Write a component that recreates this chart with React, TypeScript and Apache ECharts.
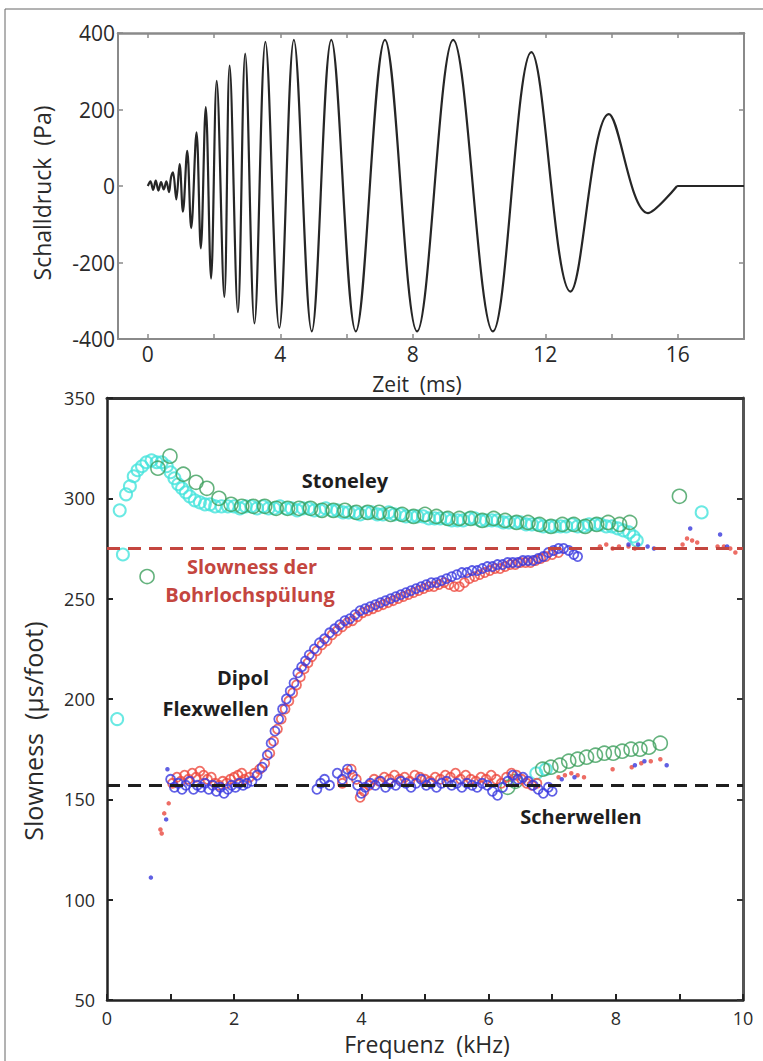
import React, { useEffect, useRef } from "react";
import * as echarts from "echarts";

// ---------- Top panel: pressure waveform (extrema) ----------
const WAVE_TIME = [
  0, 0.08, 0.16, 0.24, 0.32, 0.4, 0.48, 0.56, 0.64, 0.7, 0.76, 0.86, 0.96, 1.06, 1.19, 1.31, 1.47, 1.6,
  1.75, 1.91, 2.08, 2.31, 2.47, 2.72, 2.94, 3.22, 3.55, 3.97, 4.41, 4.95, 5.54, 6.28, 7.16, 8.13, 9.22,
  10.42, 11.58, 12.76, 13.92, 15.1, 15.98,
];
const WAVE_PRESSURE = [
  0, 12, -10, 14, -12, 10, -9, 12, -16, 22, 36, -35, 57, -67, 92, -110, 140, -163, 206, -242, 275,
  -290, 315, -330, 346, -359, 377, -371, 382, -380, 382, -380, 382, -380, 382, -380, 350, -276, 188,
  -71, 0,
];
const TAIL_TIME = [15.98, 18];
const TAIL_PRESSURE = [0, 0];

const TIME_TICKS = [0, 2, 4, 6, 8, 10, 12, 14, 16, 18];
const TIME_LABELS = [0, 4, 8, 12, 16];
const PRESSURE_TICKS = [-400, -200, 0, 200, 400];

// ---------- Bottom panel: slowness dispersion ----------
const FREQ_TICKS = [0, 1, 2, 3, 4, 5, 6, 7, 8, 9, 10];
const FREQ_LABELS = [0, 2, 4, 6, 8, 10];
const MUD_SLOWNESS = 275;
const SHEAR_SLOWNESS = 157;

const STONELEY_CYAN: number[][] = [
  [0.16, 190], [0.2, 294], [0.25, 272], [0.3, 302], [0.36, 306], [0.42, 311], [0.48, 314], [0.55, 316],
  [0.62, 318], [0.7, 319], [0.78, 318], [0.86, 318], [0.94, 316], [1.0, 313], [1.06, 310], [1.12, 307],
  [1.18, 305], [1.24, 303], [1.3, 301], [1.38, 299], [1.46, 298], [1.54, 297], [1.62, 297], [1.7, 296],
  [1.8, 296], [1.9, 296], [2.0, 296], [2.09, 295], [2.18, 296], [2.27, 296], [2.36, 295], [2.45, 296],
  [2.54, 295], [2.63, 295], [2.72, 296], [2.81, 295], [2.9, 295], [2.99, 294], [3.08, 295], [3.17, 295],
  [3.26, 294], [3.35, 294], [3.44, 295], [3.53, 294], [3.62, 294], [3.71, 293], [3.8, 293], [3.89, 293],
  [3.98, 292], [4.07, 293], [4.16, 293], [4.25, 292], [4.34, 292], [4.43, 293], [4.52, 292], [4.61, 292],
  [4.7, 291], [4.79, 291], [4.88, 291], [4.97, 291], [5.06, 290], [5.15, 290], [5.24, 290], [5.33, 290],
  [5.42, 289], [5.51, 289], [5.6, 289], [5.69, 290], [5.78, 290], [5.87, 289], [5.96, 289], [6.05, 289],
  [6.14, 289], [6.23, 288], [6.32, 288], [6.41, 288], [6.5, 288], [6.59, 287], [6.68, 287], [6.77, 287],
  [6.86, 286], [6.95, 286], [7.04, 286], [7.13, 286], [7.22, 286], [7.31, 287], [7.4, 286], [7.49, 286],
  [7.58, 287], [7.67, 287], [7.76, 287], [7.85, 286], [7.94, 286], [8.03, 285], [8.12, 284], [8.21, 283],
  [8.28, 281], [8.33, 279], [9.35, 293], [6.75, 163], [6.9, 165],
];

const STONELEY_GREEN: number[][] = [
  [0.63, 261], [0.8, 315], [0.99, 321], [1.2, 312], [1.4, 308], [1.57, 305], [1.76, 300], [1.95, 297],
  [2.12, 296], [2.3, 296], [2.48, 296], [2.66, 295], [2.84, 295], [3.02, 295], [3.2, 295], [3.38, 294],
  [3.56, 294], [3.74, 294], [3.92, 293], [4.1, 293], [4.28, 293], [4.46, 292], [4.64, 292], [4.82, 291],
  [5.0, 292], [5.18, 291], [5.36, 290], [5.54, 290], [5.72, 290], [5.9, 289], [6.08, 290], [6.26, 289],
  [6.44, 288], [6.62, 288], [6.8, 287], [6.98, 286], [7.16, 287], [7.34, 287], [7.52, 286], [7.7, 287],
  [7.88, 288], [8.06, 287], [8.22, 288], [9.0, 301],
];

const SHEAR_GREEN: number[][] = [
  [6.3, 156], [6.42, 159], [6.85, 165], [6.98, 166], [7.12, 167], [7.26, 169], [7.4, 170], [7.54, 171],
  [7.68, 172], [7.82, 173], [7.96, 173], [8.1, 174], [8.24, 175], [8.38, 175], [8.52, 176], [8.7, 178],
];

const DIPOLE_RED: number[][] = [
  [1.03, 158], [1.1, 161], [1.16, 159], [1.22, 162], [1.28, 160], [1.34, 163], [1.4, 161], [1.46, 164],
  [1.52, 162], [1.58, 160], [1.64, 161], [1.7, 158], [1.76, 157], [1.82, 159], [1.88, 158], [1.94, 160],
  [2.0, 161], [2.06, 162], [2.12, 163],
  [2.16, 160], [2.24, 161], [2.32, 163], [2.4, 165], [2.48, 168], [2.56, 173], [2.62, 179], [2.68, 185],
  [2.74, 190], [2.8, 195], [2.86, 199], [2.92, 203], [2.98, 207], [3.04, 211], [3.1, 215], [3.16, 218],
  [3.22, 221], [3.3, 224], [3.38, 227], [3.46, 229], [3.54, 232], [3.62, 234], [3.7, 236], [3.78, 238],
  [3.86, 239], [3.94, 241], [4.02, 243], [4.1, 244], [4.18, 245], [4.26, 246], [4.34, 247], [4.42, 248],
  [4.5, 249], [4.58, 250], [4.66, 251], [4.74, 252], [4.82, 253], [4.9, 254], [4.98, 255], [5.06, 256],
  [5.14, 256], [5.22, 257], [5.3, 258], [5.38, 257], [5.46, 256], [5.54, 256], [5.62, 258], [5.7, 260],
  [5.78, 261], [5.86, 262], [5.94, 263], [6.02, 264], [6.1, 265], [6.18, 265], [6.26, 266], [6.34, 267],
  [6.42, 267], [6.5, 268], [6.58, 268], [6.66, 268], [6.74, 269], [6.82, 270], [6.9, 271], [7.0, 272],
  [7.1, 273],
];

const DIPOLE_BLUE: number[][] = [
  [1.0, 160], [1.06, 156], [1.12, 158], [1.18, 155], [1.24, 157], [1.3, 159], [1.36, 155], [1.42, 157],
  [1.48, 156], [1.54, 158], [1.6, 155], [1.66, 157], [1.72, 154], [1.78, 156], [1.84, 153], [1.9, 155],
  [1.96, 157], [2.02, 156], [2.08, 158], [2.14, 157],
  [2.2, 158], [2.28, 159], [2.36, 162], [2.44, 166], [2.52, 172], [2.58, 178], [2.64, 184], [2.7, 190],
  [2.76, 195], [2.82, 200], [2.88, 204], [2.94, 208], [3.0, 213], [3.06, 216], [3.12, 219], [3.18, 222],
  [3.26, 225], [3.34, 228], [3.42, 230], [3.5, 233], [3.58, 235], [3.66, 237], [3.74, 239], [3.82, 240],
  [3.9, 242], [3.98, 244], [4.06, 245], [4.14, 246], [4.22, 247], [4.3, 248], [4.38, 249], [4.46, 250],
  [4.54, 251], [4.62, 252], [4.7, 253], [4.78, 254], [4.86, 255], [4.94, 256], [5.02, 257], [5.1, 258],
  [5.18, 258], [5.26, 259], [5.34, 260], [5.42, 261], [5.5, 262], [5.58, 263], [5.66, 263], [5.74, 264],
  [5.82, 264], [5.9, 265], [5.98, 266], [6.06, 266], [6.14, 267], [6.22, 267], [6.3, 268], [6.38, 268],
  [6.46, 268], [6.54, 269], [6.62, 269], [6.7, 269], [6.78, 270], [6.86, 271], [6.94, 273], [7.02, 274],
  [7.1, 275], [7.18, 275], [7.26, 274], [7.34, 272], [7.4, 271],
];

const SHEAR_RED: number[][] = [
  [3.7, 158], [3.76, 163], [3.84, 165], [3.92, 160], [3.98, 151], [4.04, 154], [4.12, 157], [4.2, 160],
  [4.28, 159], [4.36, 161], [4.44, 160], [4.52, 162], [4.6, 160], [4.68, 161], [4.76, 159], [4.84, 162],
  [4.92, 161], [5.0, 160], [5.08, 159], [5.16, 161], [5.24, 160], [5.32, 162], [5.4, 161], [5.48, 163],
  [5.56, 160], [5.64, 162], [5.72, 160], [5.8, 159], [5.88, 161], [5.96, 160], [6.04, 162], [6.12, 160],
  [6.2, 158], [6.28, 161], [6.36, 163], [6.44, 162], [6.52, 160], [6.6, 158], [6.68, 157], [6.76, 158],
];

const SHEAR_BLUE: number[][] = [
  [3.3, 155], [3.36, 158], [3.42, 160], [3.5, 157], [3.62, 163], [3.7, 160], [3.78, 165], [3.86, 162],
  [3.94, 157], [4.0, 153], [4.06, 156], [4.14, 158], [4.22, 157], [4.3, 159], [4.38, 156], [4.46, 158],
  [4.54, 157], [4.62, 159], [4.7, 158], [4.78, 156], [4.86, 158], [4.94, 160], [5.02, 157], [5.1, 158],
  [5.18, 156], [5.26, 158], [5.34, 159], [5.42, 157], [5.5, 158], [5.58, 156], [5.66, 158], [5.74, 157],
  [5.82, 156], [5.9, 158], [5.98, 157], [6.06, 154], [6.14, 152], [6.22, 156], [6.3, 159], [6.38, 162],
  [6.46, 160], [6.54, 161], [6.62, 159], [6.7, 157], [6.78, 155], [6.86, 153], [6.94, 156], [7.0, 154],
];

const DOTS_RED: number[][] = [
  [0.84, 135], [0.86, 133], [0.9, 143], [0.97, 148], [7.1, 161], [7.2, 162], [7.3, 163], [7.4, 162],
  [7.5, 161], [7.95, 165], [8.25, 166], [8.4, 168], [8.55, 169], [8.7, 170], [7.75, 276], [7.85, 277],
  [7.95, 275], [8.05, 276], [8.2, 276], [8.3, 275], [9.05, 277], [9.12, 280], [9.2, 279], [9.28, 278],
  [9.6, 276], [9.7, 276], [9.8, 275], [9.88, 273],
];

const DOTS_BLUE: number[][] = [
  [0.69, 111], [0.93, 140], [0.95, 165], [7.15, 160], [7.35, 161], [8.3, 167], [8.45, 169], [8.8, 167],
  [8.2, 277], [8.35, 277], [8.5, 276], [8.6, 275], [9.17, 285], [9.64, 282], [9.75, 276],
];

const FONT = "'Open Sans', 'Noto Sans', sans-serif";

export default function App() {
  const ref = useRef<HTMLDivElement>(null);

  useEffect(() => {
    if (!ref.current) return;
    const chart = echarts.init(ref.current, undefined, { renderer: "svg" });

    const topAxisColor = "#8a8a8a";
    const botAxisColor = "#222";

    const openCircle = (color: string, size: number, width: number) => ({
      type: "scatter",
      xAxisIndex: 2,
      yAxisIndex: 2,
      symbol: "circle",
      symbolSize: size,
      itemStyle: { color: "rgba(0,0,0,0)", borderColor: color, borderWidth: width },
      silent: true,
    });

    const option: any = {
      animation: false,
      backgroundColor: "#ffffff",
      grid: [
        { left: 118, top: 33, width: 626, height: 306 },
        { left: 107, top: 398, width: 636, height: 602 },
      ],
      xAxis: [
        {
          gridIndex: 0, type: "value", min: -0.9, max: 18,
          axisLine: { onZero: false, lineStyle: { color: topAxisColor, width: 2 } },
          axisTick: { inside: true, length: 5, customValues: TIME_TICKS, lineStyle: { color: topAxisColor, width: 1.5 } },
          axisLabel: { customValues: TIME_LABELS, fontSize: 21, lineHeight: 22, color: "#2a2a2a", fontFamily: FONT, margin: 4 },
          splitLine: { show: false },
        },
        {
          gridIndex: 0, type: "value", position: "top", min: -0.9, max: 18,
          axisLine: { onZero: false, lineStyle: { color: topAxisColor, width: 2.5 } },
          axisTick: { inside: true, length: 5, customValues: TIME_TICKS, lineStyle: { color: topAxisColor, width: 1.5 } },
          axisLabel: { show: false },
          splitLine: { show: false },
        },
        {
          gridIndex: 1, type: "value", min: 0, max: 10,
          axisLine: { onZero: false, lineStyle: { color: botAxisColor, width: 2.5 } },
          axisTick: { inside: true, length: 6, customValues: FREQ_TICKS, lineStyle: { color: botAxisColor, width: 2 } },
          axisLabel: { customValues: FREQ_LABELS, fontSize: 18, lineHeight: 20, color: "#2a2a2a", fontFamily: FONT, margin: 8 },
          splitLine: { show: false },
        },
        {
          gridIndex: 1, type: "value", position: "top", min: 0, max: 10,
          axisLine: { onZero: false, lineStyle: { color: "#333", width: 3 } },
          axisTick: { show: false },
          axisLabel: { show: false },
          splitLine: { show: false },
        },
      ],
      yAxis: [
        {
          gridIndex: 0, type: "value", min: -400, max: 400, interval: 200,
          axisLine: { show: true, onZero: false, lineStyle: { color: topAxisColor, width: 2 } },
          axisTick: { show: true, inside: true, length: 5, lineStyle: { color: topAxisColor, width: 1.5 } },
          axisLabel: { fontSize: 21, color: "#2a2a2a", fontFamily: FONT, margin: 3 },
          splitLine: { show: false },
        },
        {
          gridIndex: 0, type: "value", position: "right", min: -400, max: 400, interval: 200,
          axisLine: { show: true, onZero: false, lineStyle: { color: topAxisColor, width: 2 } },
          axisTick: { show: true, inside: true, length: 5, customValues: PRESSURE_TICKS, lineStyle: { color: topAxisColor, width: 1.5 } },
          axisLabel: { show: false },
          splitLine: { show: false },
        },
        {
          gridIndex: 1, type: "value", min: 50, max: 350, interval: 50,
          axisLine: { show: true, onZero: false, lineStyle: { color: botAxisColor, width: 2.5 } },
          axisTick: { show: true, inside: true, length: 6, lineStyle: { color: botAxisColor, width: 2 } },
          axisLabel: { fontSize: 18, color: "#2a2a2a", fontFamily: FONT, margin: 12 },
          splitLine: { show: false },
        },
        {
          gridIndex: 1, type: "value", position: "right", min: 50, max: 350, interval: 50,
          axisLine: { show: true, onZero: false, lineStyle: { color: "#555", width: 3 } },
          axisTick: { show: true, inside: true, length: 6, lineStyle: { color: "#333", width: 2 } },
          axisLabel: { show: false },
          splitLine: { show: false },
        },
      ],
      series: [
        {
          type: "line", xAxisIndex: 0, yAxisIndex: 0,
          data: WAVE_TIME.map((t, i) => [t, WAVE_PRESSURE[i]]),
          smooth: 0.36, showSymbol: false, symbol: "none",
          lineStyle: { color: "#262626", width: 2.2 },
        },
        {
          type: "line", xAxisIndex: 0, yAxisIndex: 0,
          data: TAIL_TIME.map((t, i) => [t, TAIL_PRESSURE[i]]),
          showSymbol: false, symbol: "none",
          lineStyle: { color: "#262626", width: 2.2 },
        },
        { ...openCircle("#45e3dc", 12, 2), data: STONELEY_CYAN },
        { ...openCircle("#3d9f5c", 14, 1.6), data: STONELEY_GREEN },
        { ...openCircle("#3d9f5c", 14, 1.6), data: SHEAR_GREEN },
        { ...openCircle("#ee4a3e", 9, 1.8), data: DIPOLE_RED },
        { ...openCircle("#ee4a3e", 9, 1.8), data: SHEAR_RED },
        { ...openCircle("#3a3ae0", 9, 1.8), data: DIPOLE_BLUE },
        { ...openCircle("#3a3ae0", 9, 1.8), data: SHEAR_BLUE },
        {
          type: "scatter", xAxisIndex: 2, yAxisIndex: 2, symbolSize: 4.5,
          itemStyle: { color: "#e8483e" }, data: DOTS_RED, silent: true,
        },
        {
          type: "scatter", xAxisIndex: 2, yAxisIndex: 2, symbolSize: 4.5,
          itemStyle: { color: "#3838dc" }, data: DOTS_BLUE, silent: true,
        },
        {
          type: "line", xAxisIndex: 2, yAxisIndex: 2, data: [], z: 10,
          markLine: {
            silent: true, symbol: ["none", "none"], label: { show: false },
            data: [
              { yAxis: MUD_SLOWNESS, lineStyle: { color: "#c4463f", width: 3, type: [13, 8] } },
              { yAxis: SHEAR_SLOWNESS, lineStyle: { color: "#1e1e1e", width: 3, type: [13, 8] } },
            ],
          },
        },
      ],
      graphic: [
        {
          type: "rect", shape: { x: 5, y: 9, width: 800, height: 1100 }, silent: true, z: -10,
          style: { fill: "none", stroke: "#666", lineWidth: 1 },
        },
        {
          type: "text", x: 42, y: 193, rotation: Math.PI / 2, silent: true,
          style: { text: "Schalldruck  (Pa)", fontSize: 23, fontFamily: FONT, fill: "#2a2a2a", align: "center", verticalAlign: "middle" },
        },
        {
          type: "text", x: 417, y: 384, silent: true,
          style: { text: "Zeit  (ms)", fontSize: 21, lineHeight: 22, fontFamily: FONT, fill: "#2a2a2a", align: "center", verticalAlign: "middle" },
        },
        {
          type: "text", x: 33, y: 731, rotation: Math.PI / 2, silent: true,
          style: { text: "Slowness  (µs/foot)", fontSize: 25, fontFamily: FONT, fill: "#2a2a2a", align: "center", verticalAlign: "middle" },
        },
        {
          type: "text", x: 427, y: 1044, silent: true,
          style: { text: "Frequenz  (kHz)", fontSize: 23, lineHeight: 24, fontFamily: FONT, fill: "#2a2a2a", align: "center", verticalAlign: "middle" },
        },
        {
          type: "text", x: 345, y: 480, silent: true,
          style: { text: "Stoneley", fontSize: 20, fontWeight: "bold", fontFamily: FONT, fill: "#1e1e1e", align: "center", verticalAlign: "middle" },
        },
        {
          type: "text", x: 252, y: 566, silent: true,
          style: { text: "Slowness der", fontSize: 20, fontWeight: "bold", fontFamily: FONT, fill: "#c4463f", align: "center", verticalAlign: "middle" },
        },
        {
          type: "text", x: 250, y: 594, silent: true,
          style: { text: "Bohrlochspülung", fontSize: 20, fontWeight: "bold", fontFamily: FONT, fill: "#c4463f", align: "center", verticalAlign: "middle" },
        },
        {
          type: "text", x: 269, y: 677, silent: true,
          style: { text: "Dipol", fontSize: 20, fontWeight: "bold", fontFamily: FONT, fill: "#1e1e1e", align: "right", verticalAlign: "middle" },
        },
        {
          type: "text", x: 269, y: 708, silent: true,
          style: { text: "Flexwellen", fontSize: 20, fontWeight: "bold", fontFamily: FONT, fill: "#1e1e1e", align: "right", verticalAlign: "middle" },
        },
        {
          type: "text", x: 581, y: 816, silent: true,
          style: { text: "Scherwellen", fontSize: 20, fontWeight: "bold", fontFamily: FONT, fill: "#1e1e1e", align: "center", verticalAlign: "middle" },
        },
      ],
    };

    chart.setOption(option);
    return () => chart.dispose();
  }, []);

  return (
    <div
      ref={ref}
      style={{ position: "absolute", left: 0, top: 0, width: 763, height: 1061, background: "#fff" }}
    />
  );
}
